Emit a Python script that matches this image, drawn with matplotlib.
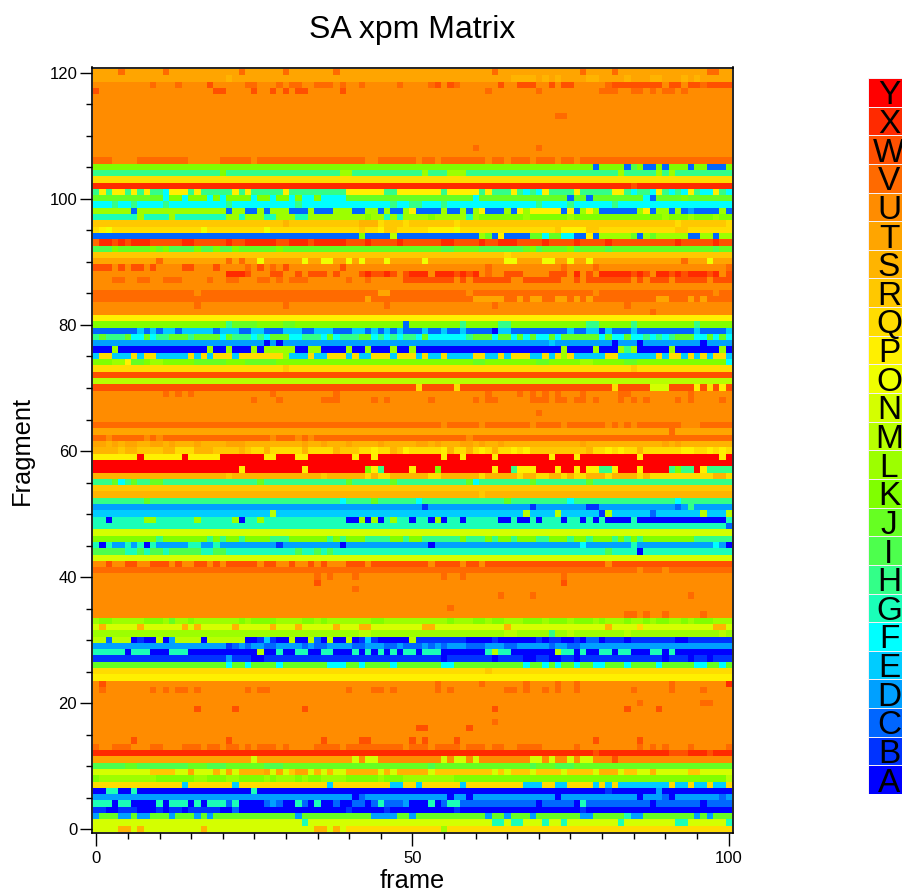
import matplotlib
matplotlib.use("Agg")
import matplotlib.pyplot as plt
import numpy as np
from matplotlib.colors import ListedColormap
from matplotlib.ticker import MultipleLocator

plt.rcParams['font.family'] = ['Liberation Sans', 'DejaVu Sans']

LETTERS = list("ABCDEFGHIJKLMNOPQRSTUVWXY")
COLORS = ["#0000ff", "#0033ff", "#0066ff", "#00a0ff", "#00ccff", "#00ffff", "#1affb8", "#33ff88",
          "#4dff4d", "#66ff22", "#80ff00", "#9cff00", "#b8ff00", "#d4ff00", "#f0ff00", "#fff000",
          "#ffdc00", "#ffc800", "#ffb400", "#ffa500", "#ff8c00", "#ff6a00", "#ff5000", "#ff2a00", "#ff0000"]
N_FRAMES = 101

# one entry per fragment, from fragment 120 down to 0:
# the usual letter of the row, then the frames that differ from it
ROWS = [
"T V4 V11 V23 V30 V38 V63 V77 V82 V97-98",
"T S21 S66-69 S71 S73 S78-79 S84 S88-89 S93 S95",
"U V9 V13 W18 V24-25 V29 V31-32 V35-37 V39 V42 V48 V53 W54 W56 V57 W64 W67-69 W72 W74-75 V81 W82-89 W91-92 W94-95 V96 W97-100",
"U W0 W19-20 W25 W28 W30 W32-33 W39 V62 V70 V80-82 V85-86 V88 V90-91 V93",
"U", "U", "U",
"U V73-74",
"U", "U", "U", "U",
"U V60 V70",
"U",
"V U3-6 U15-19 U25 U43-44 U51 U54 U62 U65 U69 U73 U76",
"K C79 C84 I85 C87-88 C90 C94 C97-99",
"H K20 L39-40 L52 L56-58 L83 L89 L91",
"Q",
"X W85",
"H P1 P3-4 P6 P8 F11 P12-14 P16 P22 P24 P30 P40-45 P48-54 P56-60 P62 P66 F68 F70 P71 P76 P82-83 F85 F88 P89 F91 F93 P94 F96-97 P98 F100",
"J F11 K12-13 F14 K15-17 F18 K19 F20 K21-24 F25 K26-27 F28 K29-30 F31 K32 F33-34 K35 F36-39 F60 C75 C78 F87 C88 K93",
"F H3 H6 H11 H21 H32 H47 H50-51 H55 H70 H75 H82",
"L C6 C21 C24-25 C27 C31-33 C35-37 C41-42 C45 C47-48 P50 C51-54 C56-57 C59 P61 C62-64 C66 P67 P69-73 C74 P75 C76 P78 C80-85 P87 C88 C91 C93 D94 C95-98 C100",
"K G0-6 L7 G8-11 L12 G13-20 L21-22 G23 L24-26 G27-28 L29-31 G32-33 L34-42 L44-45 G46 L47 G48 L49-52 L54-58 G59 L60 L68 L75 L90 L94 L98",
"R S30 S42-44 Q45 Q49 Q57 Q92 Q100",
"Q P1 O2 O17 O27 R42 P45 R46-47 P53-56 O57 R73 P74-77 R78-79 R92-93",
"C K42 M47 L61 J62 P64 J69-70 F71 J72-73 F74-75 P78 L80-84 J85 L87 J88 L89-93 L96-97 L99-100",
"W V0 X1-2 X4 X6-8 X14-15 X21 X24-28 X31-33 X35-39 X43 X48 X55-56 X61 X64-66 X71 X76 X81 X92 X98",
"J I0-2 K3 K9 K11 I12-15 K16 I17-18 K19 I20-21 K22 K29 I55-56 I61-67 K69 I70 K75 I76 I81 I98",
"R Q65",
"T V10 V21 V23 O26 O33 O36-37 O40 O42 O46 O52 O65-66 O71-72 O75 O78 V93 O97",
"U W0-2 W4 W6-7 W9 W14-15 W19 V24 W26 V28 W30 W39 V62 V74 V79 V100",
"U X21-23 W24 W28-29 W32 W34-36 W38 W42 X43 W44-45 X46 W47 W49 X50-52 X54-56 W57 X58 W59 X60 V62 W65-67 W72-74 X76 W78 X80-84 W85 X86 W87 X89-90 W91 X92 W93 X94-96 W97 X98 W100",
"U V3-4 V7-8 V11-13 V18 V21-22 V26-27 V29 V31-33 V40 V43 W49-56 W58 W60-65 W68-73 W76 W78-84 W86 W88-90 W92-96 W98-100",
"U",
"V U16 T45-46 U59 U79 U98",
"V T43 T60-64 T67 T69-70 T73-74 T76 T78 T89-90 T94 T96",
"U V16 V30 V46 V63 V84",
"U V88",
"P",
"K H21 J22-25 J30-31 C49 H58 H64-65 H78-79 H85 H95",
"C E7 E9 E11-12 E14-18 E20-22 E25-26 E30-32 E35-37 E41-42 E44 E46 E48 E52 E55 E58 A63 E64-65 E75 E78-79 B80 E81 E85 E95 E100",
"H J1 J5 F6-7 J8 F9 J12-14 J16-19 F20 J21 F25 F27 J28-30 F31-32 F36 J37 F38 J42-43 F44 F46 F48 F51 J52 F53-58 J60-62 F63 J64-65 F66 J67 F68 J69 F70-71 J72 F73 J74-79 F80 J81 F82-83 J84 F85-86 F88 F90 J92-94 F95-96 J97 F98 J99 F100",
"D A27 A29 E72 A82 A86 A96",
"A L3 L18 L21 L25 L27-31 L34-35 L40 L43 L47 L50 L74 L79 L83 H84 L85 L91 L99",
"E Q1-2 Q6 Q8-9 Q15 Q17 Q19-21 Q23-29 L30 Q34 Q37-39 Q41 Q44-46 Q48-50 Q52 Q55 Q60-61 Q64 Q66-68 Q71 Q73 L74 Q75 Q81-82 Q89 Q91-92 Q94 Q96 Q98-99",
"K L3-4 P5 J6-7 L9-10 J16-20 J24-28 J60-61 J70-71 L77-78 J84-85 F100",
"Q R30 R85",
"W",
"M",
"W Q51 Q57 Q82 N88-90 P95 Q97 P99",
"U V11 V13 V15 V28 V38 V62 V67 V69 V71 V73 V77 V83-84 V94",
"U V25 V29 V36-38 V44 V46 V53 V60 V62-63 V69-71 V73-74 V76-77 V79 V83 V85 V87 V92 V94 V99",
"U",
"U V70",
"U",
"V U55 U61 U69 U74 U81 U83 U85 U93-95",
"T V91",
"V U2 U8 U10 U28 U32 U34 U59",
"S T0-1 T3 T5-6 T9-10 T12 T16 T21-23 T33 T36 T40 T45 T51-52 T54 T58-59 T61 T64 T77 T90 T92",
"R S0-3 S5-6 S11-12 Q13-15 S16-18 S23 Q25-26 S27 Q28-32 S33 Q34-37 S38 Q42-43 P44 Q45-46 S47 P49 Q50-54 P55 S56 Q57-58 S59 Q60 P61 Q62 S63 Q64-65 P66 Q67 P68 S78 Q79-80 P81 Q82 P83 Q84-85 S86 Q87-92 P93-94 Q95-96 P97 Q98 P99 Q100",
"Y P0-6 P8-13 P15-19 P27-28 P32-33 P41 P44 P55 P58 P63 P72 P76 P86 P99",
"Y",
"Y P23 P33 K43 P44 H45 P50 K54 P63 H66 P67-69 P73 P76 P78-79 H80-81 P82 P86 H91 K92 H93-94 P96 H97-100",
"S R21 R36 Q43 Q45-46 Q53-54 Q61 Q67 Q70-71 Q74 Q76-77 Q81 Q86 Q88-97 Q100",
"H J3 F4 J6 J9-10 J26 J40 J47 J59 F60 J69 J78",
"R",
"S R61",
"H J8 F39 J44 F51 J65 F75 F92",
"D B52 B69 B78-79 C92 H94",
"E M28 M68 M73 B80 M81 C88 M96 M100",
"G A2 L8-9 L16 L22 A23 L26 A40-41 L42 A43 L44 A45 L47 A50 A53 L54 A55 A58 A64-65 A67-68 A70 A74 A77 A79 A81-84 A86-99",
"G C100",
"N",
"K H10 H18 H20 H23 H28-30 H37 H39 H43-46 H49 H52-57 H59-61 H63 H66 H70-71 H75 H78 H82 H84 H86 H95-100",
"D G0 A1 G2 G5 G7 A8 G9 G15-16 G19 B29 A39 A53 F77 G85 F98 A100",
"G I0-4 I7 I9-10 I12-16 I19-20 I32 I35 I37 I81 A86",
"N",
"W U0-1 U3-4 U7-8 U12 U14-15 U18 U20 U26 U29-30 U32-33 U35 U37-39 U43 U53 U58 U61 U81",
"V U86 U90",
"U V35 V37 V41 V55 V58 V74",
"U W35 W74",
"U V41",
"U V64 V69 V94",
"U",
"U V56",
"U V84-85 V87 V90 V96",
"L K1-2 K8-10 J12 K15 K23 K25-28 K33-34 K36 K44-45 K56 K60-61 K63-64 K68-70 K72-74 K76-78 K80 K84 K87 K89-90 K93 K95-97",
"N S1 S7 S14 S16 S22 S28 S32 S38 S42-43 S52-53 S65 S81 Q86 S98-99",
"L M42-43 M65-66 H72 M75 M84 M99",
"A M0-1 C2 M3-5 B7 M10 D12 M13-16 M18-23 B26 E27 B28 M31 M34 C35 M37 M40 B42 E43 B44 M50 B51-58 B63 B70 B72-73 B76 C78-79 B81-83 B85-91 B94-100",
"D B21 C22 C24 C27-28 C33 C35-36 C41-42 C46-47 C49-51 C53 C55 C59-61 C65-66 C72 C75-76",
"A G0-4 G6-8 G12-14 M26 G29 G32-33 G36-37 G41 G43 G45 G47 G49-50 G52-54 G62 M63 G64-65 M73 G74-75 G77 G80-81 G83-84 G88-89 G91",
"B D21 A25-26 A55 A63 A68-69 A72-73 A76 A90 A94 A97",
"J F21 F24 F29 F37-39 F42 F47 F55-56 F68 F71 F73 F76 F79-80 F84 F89 F95-96 F99",
"Q R62",
"P",
"U W1 V54 V61 V68 V73 V76 V91 X100",
"U V1 V9 V11 V13-14 V16 V24 V26-27 V40 V44-45 V47 V54 V56 V65-66 V68 V71 V73 V76 V85 V91 V96",
"U",
"U V86 V96-97",
"U W16 W22 W33 W63 W84 W89",
"U",
"U V63",
"U W51-52 W59",
"U",
"U W6 W21 W36 W42-43 W50 W52 W57 W79 W86",
"U V0 V3-5 V9-10 V14-16 V18-19 V21-22 V24 V26-28 V30 V35-38 V40-48 V50-52 V54-57 V59-61 V63-64 V67-70 V76 V86 V88 V90 V94 V100",
"X W79 W91-93 W97",
"U T0-24 N25 T26-40 N41 N43-44 N55 N57-58 N60 N69-70 N72 N75 N77-78 W82",
"J I0-4 I7-14 I18-20 I27-29 I53 I69 I73-75",
"N R9-12 T15 S19 T21 S23-26 T27 T29 R31 T32-33 S35 S37 S40-44 S46 S48-52 R54-62 R64 R66-68 R70-73 R75-78 S80-82 R84-85 S88 R94-95",
"L K0 K10-15 K18-20 K23-26 K28 K32 K34-35 K40-44 K46-48 K57-99 M100",
"Q E14 E22 E37 E47-48 E51 E58 E68-70 E73-74 E79 E81 E83-90 E92-93 E95-96 E98-99",
"A G2-3 G6 G25 B81 D89",
"D A41 C42 A56 A59 A73 A86 C90 A91 C99",
"A G0-2 G4-5 G10 G12-14 G16 G18-20 C21 G22 C27 D28 C29 G32 C33 G35 C38 C41-42 C44 G45 C46-48 D49 G53 C55 G56-57 C58-69 C71-75 G77 C78-87 C89-95 C97-100",
"A B0-1 B4-6 B10 B12-13 B15-19 C22 B40 B46 B57 B77",
"J D0 D4-5 D7-8 D12 D16 D18 D32 D44-47 D50 D62 D65 D69 D77-78 G84 D85-86 D95 D97",
"N G33 G63-64 G66-67 G71 G74 G83 G92-93 G100",
"N S4-5 S7 S17 S35-36 S38 Q40-54 L55 Q56-100",
]


def decode(spec):
    parts = spec.split()
    row = np.full(N_FRAMES, LETTERS.index(parts[0]))
    for tok in parts[1:]:
        letter, cols = tok[0], tok[1:]
        lo, _, hi = cols.partition("-")
        row[int(lo):int(hi or lo) + 1] = LETTERS.index(letter)
    return row


matrix = np.array([decode(s) for s in ROWS])[::-1]
cmap = ListedColormap(COLORS)

W, H = 903, 893
fig = plt.figure(figsize=(W / 100, H / 100), dpi=100)
ax = fig.add_axes([92.5 / W, 1 - 833 / H, (732.5 - 92.5) / W, (833 - 67.5) / H])
ax.imshow(matrix, cmap=cmap, vmin=-0.5, vmax=24.5, origin="lower", aspect="auto",
          interpolation="nearest", extent=(-0.5, N_FRAMES - 0.5, -0.5, len(ROWS) - 0.5))
ax.set_xlim(-0.6, 100.63)
ax.set_ylim(-0.63, 120.87)
ax.set_xticks([0, 50, 100])
ax.set_yticks(range(0, 121, 20))
ax.xaxis.set_minor_locator(MultipleLocator(5))
ax.yaxis.set_minor_locator(MultipleLocator(5))
ax.tick_params(axis="both", which="major", direction="out", length=9, width=1, labelsize=12, pad=2)
ax.tick_params(axis="x", which="major", pad=4)
ax.tick_params(axis="both", which="minor", direction="out", length=4.5, width=1)
for s in ax.spines.values():
    s.set_linewidth(1.2)
ax.set_xlabel("frame", fontsize=18.3, va="center")
ax.set_ylabel("Fragment", fontsize=18.3, va="center")
ax.xaxis.set_label_coords(0.5, -(880.5 - 833) / 765.5)
ax.yaxis.set_label_coords((22 - 92.5) / 640, 0.5)
fig.text(412 / W, 1 - 30 / H, "SA xpm Matrix", ha="center", va="center", fontsize=23)

# colour key on the right; the letters run up to the picture's edge
lg = fig.add_axes([868 / W, 1 - 794 / H, 35 / W, (794 - 78) / H])
lg.pcolormesh(np.arange(2), np.arange(len(LETTERS) + 1), np.arange(len(LETTERS)).reshape(-1, 1),
              cmap=cmap, vmin=-0.5, vmax=24.5, edgecolors="#f4eef4", linewidth=0.5)
lg.set_xlim(0, 1)
lg.set_ylim(0, len(LETTERS))
lg.axis("off")
for i, letter in enumerate(LETTERS):
    lg.text(0.6, i + 0.5, letter, ha="center", va="center_baseline", fontsize=24, color="black", clip_on=True)

fig.savefig("out.png", dpi=100)
